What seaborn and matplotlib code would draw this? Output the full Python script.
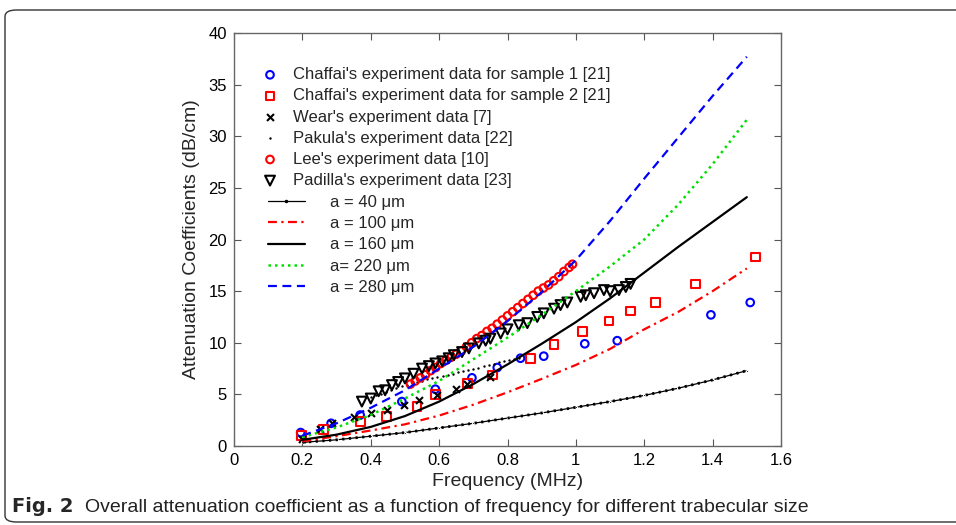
import numpy as np
import pandas as pd
import matplotlib
matplotlib.use("Agg")
import matplotlib.pyplot as plt
import seaborn as sns
from matplotlib.patches import FancyBboxPatch
from matplotlib.lines import Line2D

# ---------------- data ----------------
chaffai1_f = [0.195, 0.284, 0.369, 0.491, 0.589, 0.696, 0.77, 0.838, 0.906, 1.026, 1.121, 1.395, 1.51]
chaffai1_v = [1.3, 2.2, 3.0, 4.3, 5.5, 6.6, 7.6, 8.5, 8.7, 9.9, 10.2, 12.7, 13.9]

chaffai2_f = [0.198, 0.262, 0.369, 0.447, 0.535, 0.589, 0.682, 0.755, 0.867, 0.936, 1.019, 1.097,
              1.16, 1.232, 1.351, 1.525]
chaffai2_v = [1.0, 1.6, 2.35, 2.84, 3.8, 5.0, 6.07, 6.87, 8.5, 9.8, 11.07, 12.1, 13.07, 13.9, 15.7, 18.3]

wear_f = [0.2, 0.252, 0.286, 0.35, 0.40, 0.447, 0.496, 0.54, 0.594, 0.648, 0.682, 0.75]
wear_v = [0.7, 1.6, 2.2, 2.8, 3.2, 3.5, 4.0, 4.5, 4.9, 5.5, 6.0, 6.7]

pakula_f = [0.400, 0.415, 0.430, 0.445, 0.460, 0.475, 0.490, 0.505, 0.520, 0.535, 0.550, 0.565,
            0.580, 0.595, 0.610, 0.625, 0.640, 0.655, 0.670, 0.685, 0.700, 0.715, 0.730, 0.745,
            0.760, 0.775, 0.790, 0.805, 0.820, 0.835]
pakula_v = [4.7, 4.9, 5.0, 5.2, 5.4, 5.6, 5.8, 5.9, 6.1, 6.2, 6.3, 6.5,
            6.6, 6.7, 6.8, 6.9, 7.0, 7.2, 7.3, 7.4, 7.5, 7.6, 7.7, 7.8,
            7.9, 8.1, 8.2, 8.3, 8.4, 8.5]

lee_f = [0.516, 0.53, 0.545, 0.56, 0.575, 0.59, 0.605, 0.62, 0.635, 0.65, 0.665, 0.68, 0.695,
         0.71, 0.725, 0.74, 0.755, 0.77, 0.785, 0.80, 0.815, 0.83, 0.845, 0.86, 0.875, 0.89,
         0.905, 0.92, 0.935, 0.95, 0.965, 0.98, 0.99]
lee_v = [6.0, 6.3, 6.6, 6.9, 7.3, 7.6, 8.0, 8.3, 8.6, 8.9, 9.2, 9.6, 10.0,
         10.4, 10.7, 11.1, 11.4, 11.8, 12.2, 12.6, 13.0, 13.4, 13.8, 14.2, 14.6, 15.0,
         15.3, 15.6, 16.0, 16.4, 16.9, 17.3, 17.6]

padilla_f = [0.374, 0.40, 0.423, 0.442, 0.462, 0.48, 0.50, 0.525, 0.55, 0.57, 0.589, 0.609, 0.628,
             0.643, 0.667, 0.687, 0.716, 0.736, 0.75, 0.78, 0.80, 0.833, 0.858, 0.887, 0.906,
             0.936, 0.955, 0.975, 1.014, 1.029, 1.053, 1.082, 1.10, 1.126, 1.146, 1.16]
padilla_v = [4.3, 4.6, 5.3, 5.4, 5.9, 6.2, 6.55, 7.0, 7.5, 7.74, 8.0, 8.2, 8.5,
             8.8, 9.1, 9.45, 9.94, 10.2, 10.4, 10.9, 11.3, 11.7, 11.9, 12.5, 12.85,
             13.3, 13.65, 13.9, 14.45, 14.6, 14.8, 15.1, 15.0, 15.1, 15.4, 15.7]

model_f = [0.2, 0.3, 0.4, 0.5, 0.6, 0.7, 0.8, 0.9, 1.0, 1.1, 1.2, 1.3, 1.4, 1.5]
a40_v = [0.35, 0.6, 0.95, 1.3, 1.75, 2.2, 2.7, 3.2, 3.75, 4.3, 4.9, 5.6, 6.4, 7.3]
a100_v = [0.45, 0.95, 1.5, 2.1, 2.95, 4.0, 5.2, 6.5, 7.85, 9.4, 11.3, 13.0, 15.0, 17.2]
a160_v = [0.6, 1.1, 1.85, 2.9, 4.3, 6.0, 7.9, 9.9, 12.0, 14.3, 16.8, 19.3, 21.7, 24.1]
a220_v = [0.85, 1.8, 3.0, 4.6, 6.3, 8.4, 10.5, 12.7, 15.0, 17.4, 20.0, 23.4, 27.3, 31.6]
a280_v = [1.0, 2.2, 3.7, 5.4, 7.5, 9.6, 12.1, 14.9, 18.0, 21.8, 25.9, 29.9, 33.9, 37.7]

x_ticks = [0, 0.2, 0.4, 0.6, 0.8, 1, 1.2, 1.4, 1.6]
x_tick_labels = ["0", "0.2", "0.4", "0.6", "0.8", "1", "1.2", "1.4", "1.6"]
y_ticks = [0, 5, 10, 15, 20, 25, 30, 35, 40]

x_label = "Frequency (MHz)"
y_label = "Attenuation Coefficients (dB/cm)"
caption_bold = "Fig. 2"
caption_text = "Overall attenuation coefficient as a function of frequency for different trabecular size"

marker_labels = ["Chaffai's experiment data for sample 1 [21]",
                 "Chaffai's experiment data for sample 2 [21]",
                 "Wear's experiment data [7]",
                 "Pakula's experiment data [22]",
                 "Lee's experiment data [10]",
                 "Padilla's experiment data [23]"]
line_labels = ["a = 40 \u03bcm", "a = 100 \u03bcm", "a = 160 \u03bcm", "a= 220 \u03bcm", "a = 280 \u03bcm"]

# ---------------- drawing ----------------
sns.set_theme(style="white")
plt.rcParams["font.family"] = ["Liberation Sans", "DejaVu Sans"]
NARROW = ["Liberation Sans Narrow", "Liberation Sans", "DejaVu Sans"]

W, H = 956, 525
fig = plt.figure(figsize=(W / 100, H / 100), dpi=100)
fig.patch.set_facecolor("white")

frame = FancyBboxPatch((5 / W, 3 / H), 1.2, (H - 13) / H,
                       boxstyle="round,pad=0,rounding_size=0.012",
                       transform=fig.transFigure, fill=False,
                       edgecolor="#333333", linewidth=1.0, clip_on=False)
fig.patches.append(frame)

ax = fig.add_axes([234 / W, (H - 446) / H, (781 - 234) / W, (446 - 33) / H])
ax.set_facecolor("white")

BLUE, RED, GREEN = "#0000ff", "#ff0000", "#00e000"
LS100 = (0, (4, 2, 1, 2))
LS220 = (0, (1, 1.6))
LS280 = (0, (4, 2.5))

# model curves
sns.lineplot(x=model_f, y=a40_v, ax=ax, color="black", linewidth=0.9,
             marker=".", markersize=3, sort=False)
sns.lineplot(x=model_f, y=a40_v, ax=ax, color="black", linewidth=2.0,
             linestyle=(0, (0.8, 1.6)), sort=False)
sns.lineplot(x=model_f, y=a100_v, ax=ax, color=RED, linewidth=1.6, linestyle=LS100, sort=False)
sns.lineplot(x=model_f, y=a160_v, ax=ax, color="black", linewidth=1.6, sort=False)
sns.lineplot(x=model_f, y=a220_v, ax=ax, color=GREEN, linewidth=1.8, linestyle=LS220, sort=False)
sns.lineplot(x=model_f, y=a280_v, ax=ax, color=BLUE, linewidth=1.6, linestyle=LS280, sort=False)

# experimental data
sns.scatterplot(x=chaffai1_f, y=chaffai1_v, ax=ax, marker="o", s=30, facecolors="none",
                edgecolor=BLUE, linewidth=1.5, label=marker_labels[0])
sns.scatterplot(x=chaffai2_f, y=chaffai2_v, ax=ax, marker="s", s=40, facecolors="none",
                edgecolor=RED, linewidth=1.5, label=marker_labels[1])
sns.scatterplot(x=wear_f, y=wear_v, ax=ax, marker="x", s=25, color="black",
                linewidth=1.5, label=marker_labels[2])
sns.scatterplot(x=pakula_f, y=pakula_v, ax=ax, marker=".", s=12, color="black",
                linewidth=0, label=marker_labels[3])
sns.scatterplot(x=lee_f, y=lee_v, ax=ax, marker="o", s=30, facecolors="none",
                edgecolor=RED, linewidth=1.5, label=marker_labels[4])
sns.scatterplot(x=padilla_f, y=padilla_v, ax=ax, marker="v", s=50, facecolors="none",
                edgecolor="black", linewidth=1.5, label=marker_labels[5])

ax.set_xlim(0, 1.6)
ax.set_ylim(0, 40)
ax.set_xticks(x_ticks)
ax.set_xticklabels(x_tick_labels)
ax.set_yticks(y_ticks)
ax.tick_params(direction="in", length=5, width=0.8, color="#555555", top=True, right=True,
               bottom=True, left=True, labelsize=12, pad=5, labelcolor="black")
for sp in ax.spines.values():
    sp.set_color("#666666")
    sp.set_linewidth(1.0)
ax.set_xlabel(x_label, fontsize=14, labelpad=4)
ax.set_ylabel(y_label, fontsize=14, labelpad=6)

# legends
handles, labels = ax.get_legend_handles_labels()
hmap = dict(zip(labels, handles))
leg1 = ax.legend([hmap[l] for l in marker_labels], marker_labels, loc="upper left",
                 bbox_to_anchor=(0.0384, 0.9334), frameon=False, fontsize=12,
                 handlelength=1.0, handletextpad=0.87, labelspacing=0.37, borderaxespad=0)
ax.add_artist(leg1)
line_handles = [
    Line2D([], [], color="black", linewidth=0.9, marker=".", markersize=3, markevery=[1]),
    Line2D([], [], color=RED, linewidth=1.6, linestyle=LS100),
    Line2D([], [], color="black", linewidth=1.6),
    Line2D([], [], color=GREEN, linewidth=1.8, linestyle=LS220),
    Line2D([], [], color=BLUE, linewidth=1.6, linestyle=LS280),
]
leg2 = ax.legend(line_handles, line_labels, loc="upper left",
                 bbox_to_anchor=(0.050, 0.6235), frameon=False, fontsize=12,
                 handlelength=2.2, handletextpad=1.5, labelspacing=0.37, borderaxespad=0)

# caption
fig.text(12 / W, 1 - 507 / H, caption_bold, fontsize=14, fontweight="bold",
         family=["DejaVu Sans"], va="center", ha="left")
fig.text(85 / W, 1 - 507 / H, caption_text, fontsize=14,
         va="center", ha="left", color="#222222")

fig.savefig("out.png", dpi=100, facecolor="white")
